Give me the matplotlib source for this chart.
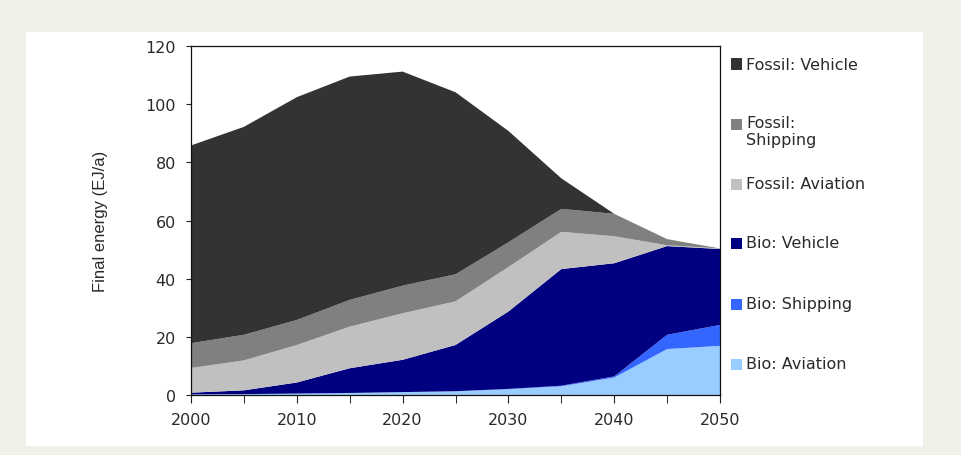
import matplotlib.pyplot as plt
from matplotlib.patches import Rectangle

# years and stacked series (EJ/a), bottom to top
years = [2000, 2005, 2010, 2015, 2020, 2025, 2030, 2035, 2040, 2045, 2050]
bio_aviation = [0.2, 0.3, 0.5, 0.7, 1.0, 1.3, 2.0, 3.0, 6.0, 15.8, 16.9]
bio_shipping = [0.0, 0.0, 0.0, 0.0, 0.0, 0.0, 0.1, 0.2, 0.4, 4.9, 7.2]
bio_vehicle = [0.6, 1.3, 3.8, 8.5, 11.1, 15.9, 26.6, 40.1, 38.9, 30.5, 26.1]
fossil_aviation = [8.5, 10.3, 12.9, 14.3, 16.0, 15.0, 15.3, 12.8, 9.3, 0.3, 0.2]
fossil_shipping = [8.5, 8.8, 8.6, 9.2, 9.5, 9.3, 8.5, 7.9, 7.7, 2.1, 0.0]
fossil_vehicle = [68.0, 71.5, 76.6, 76.8, 73.6, 62.6, 38.3, 10.5, 0.0, 0.0, 0.0]

labels = ['Bio: Aviation', 'Bio: Shipping', 'Bio: Vehicle',
          'Fossil: Aviation', 'Fossil:\nShipping', 'Fossil: Vehicle']
colors = ['#99ccff', '#3366ff', '#000080', '#c0c0c0', '#808080', '#333333']
series = [bio_aviation, bio_shipping, bio_vehicle,
          fossil_aviation, fossil_shipping, fossil_vehicle]

fig = plt.figure(figsize=(9.61, 4.56), dpi=100)
fig.patch.set_facecolor('#f0efe8')

# white panel behind the chart
bg = fig.add_axes([26/961, 1-447/456, (923-26)/961, (447-33)/456])
bg.set_facecolor('white')
bg.set_xticks([])
bg.set_yticks([])
for s in bg.spines.values():
    s.set_visible(False)

ax = fig.add_axes([191/961, 1-396/456, (720-191)/961, 349/456])
ax.stackplot(years, *series, colors=colors, linewidth=0)
ax.set_xlim(2000, 2050)
ax.set_ylim(0, 120)
ax.set_xticks(range(2000, 2051, 10))
ax.set_xticks(range(2005, 2050, 10), minor=True)
ax.set_yticks(range(0, 121, 20))
ax.tick_params(labelsize=11.5, width=0.8, colors='#222222', labelcolor='#2a2a2a')
ax.tick_params(axis='x', which='both', length=5.5, pad=6.5)
ax.tick_params(axis='y', length=3.8, pad=7)
for s in ax.spines.values():
    s.set_linewidth(0.9)
    s.set_color('#111111')
ax.set_ylabel('Final energy (EJ/a)', family='Liberation Sans', fontsize=12,
              color='#2a2a2a', labelpad=27)

# legend, top entry first
leg_y = [65, 125, 185, 244, 305, 365]
for lab, col, yy in zip(labels[::-1], colors[::-1], leg_y):
    fig.add_artist(Rectangle((731/961, 1-(yy+5.5)/456), 11/961, 11/456,
                             transform=fig.transFigure, facecolor=col,
                             edgecolor='none'))
    if '\n' in lab:
        fig.text(746/961, 1-(yy-9)/456, lab, fontsize=11.5, color='#2a2a2a',
                 va='top', linespacing=1.2)
    else:
        fig.text(746/961, 1-yy/456, lab, fontsize=11.5, color='#2a2a2a', va='center')

fig.savefig('out.png', dpi=100, facecolor=fig.get_facecolor())
